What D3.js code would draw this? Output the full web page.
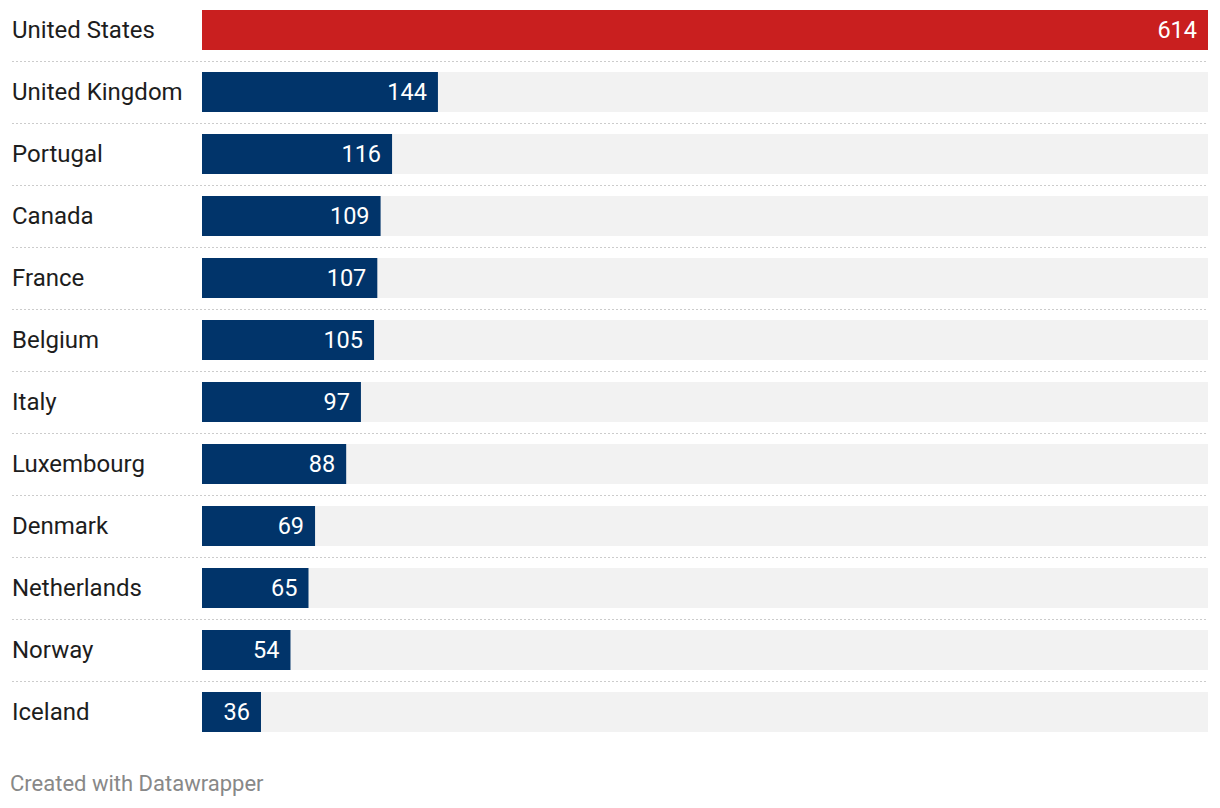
<!DOCTYPE html>
<html><head><meta charset="utf-8">
<script src="https://cdn.jsdelivr.net/npm/d3@7/dist/d3.min.js"></script>
<style>body{margin:0;background:#fff;font-family:Roboto,sans-serif;}</style>
</head><body><svg id="c" width="1220" height="808"></svg>
<script>
const countries = ["United States","United Kingdom","Portugal","Canada","France","Belgium","Italy","Luxembourg","Denmark","Netherlands","Norway","Iceland"];
const values = [614,144,116,109,107,105,97,88,69,65,54,36];
const highlight = ["United States"];

const svg = d3.select("#c");
const x = d3.scaleLinear().domain([0,614]).range([202,1208]);
const y = d3.scaleBand().domain(countries).range([10, 10 + 12*62 - 22]).paddingInner(22/62).paddingOuter(0);
const bh = y.bandwidth();

const g = svg.append("g");
const rows = g.selectAll("g.row").data(countries).join("g").attr("class","row");

rows.append("rect").attr("x",x(0)).attr("width",x(614)-x(0))
  .attr("y",d=>y(d)).attr("height",bh).attr("fill","#f2f2f2");
rows.append("rect").attr("x",x(0)).attr("width",(d,i)=>x(values[i])-x(0))
  .attr("y",d=>y(d)).attr("height",bh)
  .attr("fill",d=>highlight.includes(d)?"#c91f1f":"#01346a");
rows.append("text").attr("x",12).attr("y",d=>y(d)+bh/2).attr("dy","0.34em")
  .attr("font-size",24).attr("fill","#1d1d1d").text(d=>d);
rows.append("text").attr("x",(d,i)=>x(values[i])-11).attr("y",d=>y(d)+bh/2).attr("dy","0.34em")
  .attr("text-anchor","end").attr("font-size",23.5).attr("fill","#fff").text((d,i)=>values[i]);
g.selectAll("line.sep").data(countries.slice(0,-1)).join("line").attr("class","sep")
  .attr("x1",12).attr("x2",1208).attr("y1",d=>y(d)+bh+11.5).attr("y2",d=>y(d)+bh+11.5)
  .attr("stroke","#cccccc").attr("stroke-width",1).attr("stroke-dasharray","2,2");

svg.append("text").attr("x",10).attr("y",784).attr("dy","0.34em").attr("font-size",22)
  .attr("fill","#888").text("Created with Datawrapper");
</script></body></html>
